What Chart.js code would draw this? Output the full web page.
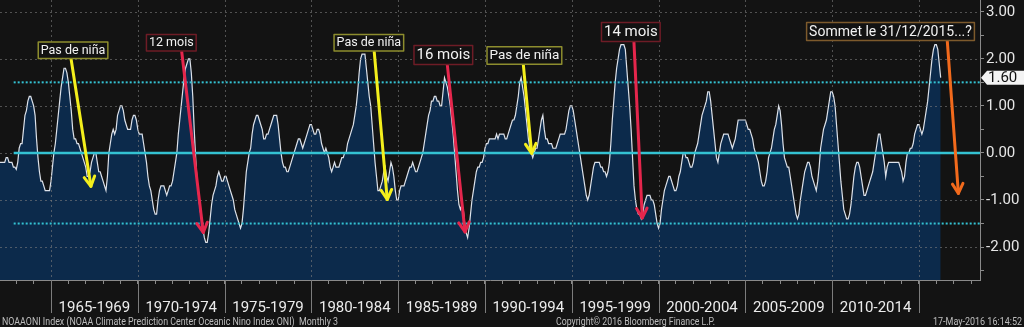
<!DOCTYPE html>
<html>
<head>
<meta charset="utf-8">
<script src="https://cdn.jsdelivr.net/npm/chart.js@4.4.1/dist/chart.umd.min.js"></script>
<style>
  html, body { margin: 0; padding: 0; background: #131313; }
  #wrap { width: 1024px; height: 327px; }
</style>
</head>
<body>
<div id="wrap"><canvas id="oniChart" width="1024" height="327"></canvas></div>
<script>
// NOAA ONI, monthly (3-month running mean, stamped on the last month of the season)
const START_YEAR = 1962;

const oni1960s = [
  -0.2,-0.2,-0.2,-0.2,-0.2,-0.1,-0.1,-0.2,-0.2,-0.2,-0.3,-0.3,   // 1962
  -0.35,-0.2,0.1,0.2,0.2,0.5,0.8,0.9,1.1,1.2,1.2,1.1,           // 1963
  1.0,0.8,0.3,-0.1,-0.4,-0.6,-0.6,-0.7,-0.8,-0.8,-0.8,-0.8,      // 1964
  -0.6,-0.3,0.0,0.2,0.5,0.8,1.1,1.4,1.6,1.8,1.8,1.7,             // 1965
  1.5,1.2,0.9,0.5,0.3,0.3,0.2,0.2,0.1,0.0,-0.1,-0.2,             // 1966
  -0.3,-0.5,-0.5,-0.4,-0.2,-0.1,0.0,0.0,-0.2,-0.4,-0.4,-0.5,     // 1967
  -0.6,-0.7,-0.8,-0.5,0.0,0.2,0.4,0.5,0.4,0.5,0.8,0.9,           // 1968
  1.0,1.0,0.9,0.7,0.6,0.5,0.5,0.5,0.7,0.8,0.8,0.7                // 1969
];
const oni1970s = [
  0.5,0.4,0.4,0.4,0.2,0.0,-0.2,-0.5,-0.7,-0.8,-1.0,-1.2,         // 1970
  -1.3,-1.3,-1.0,-0.8,-0.7,-0.7,-0.7,-0.8,-0.9,-0.8,-0.7,-0.7,   // 1971
  -0.6,-0.4,-0.2,0.0,0.4,0.7,1.0,1.3,1.6,1.8,1.9,2.0,            // 1972
  2.0,1.7,1.2,0.5,-0.1,-0.6,-0.9,-1.2,-1.4,-1.6,-1.8,-1.9,       // 1973
  -1.9,-1.7,-1.4,-1.1,-0.9,-0.8,-0.7,-0.5,-0.4,-0.5,-0.6,-0.6,   // 1974
  -0.5,-0.5,-0.6,-0.7,-0.8,-0.9,-1.0,-1.2,-1.3,-1.4,-1.5,-1.6,   // 1975
  -1.5,-1.2,-0.8,-0.4,-0.2,0.0,0.1,0.4,0.6,0.7,0.8,0.8,          // 1976
  0.7,0.6,0.5,0.3,0.3,0.4,0.4,0.5,0.6,0.7,0.8,0.8,               // 1977
  0.8,0.6,0.3,0.0,-0.2,-0.3,-0.3,-0.4,-0.4,-0.3,-0.2,-0.1,       // 1978
  0.0,0.1,0.2,0.3,0.3,0.2,0.1,0.2,0.3,0.4,0.5,0.6                // 1979
];
const oni1980s = [
  0.6,0.5,0.4,0.4,0.5,0.5,0.4,0.2,0.1,0.0,0.1,0.0,               // 1980
  -0.1,-0.3,-0.4,-0.3,-0.2,-0.3,-0.3,-0.3,-0.2,-0.1,-0.1,0.0,    // 1981
  0.0,0.2,0.3,0.4,0.5,0.6,0.8,1.0,1.3,1.7,2.0,2.1,               // 1982
  2.1,2.1,1.8,1.5,1.2,1.0,0.6,0.2,-0.2,-0.5,-0.8,-0.8,           // 1983
  -0.7,-0.6,-0.4,-0.3,-0.5,-0.6,-0.4,-0.2,-0.3,-0.5,-0.8,-1.0,   // 1984
  -1.0,-0.8,-0.7,-0.7,-0.7,-0.6,-0.5,-0.4,-0.3,-0.3,-0.2,-0.3,   // 1985
  -0.4,-0.4,-0.3,-0.2,-0.1,0.0,0.2,0.4,0.6,0.8,0.9,1.1,          // 1986
  1.1,1.2,1.2,1.1,1.1,1.0,1.0,1.3,1.6,1.5,1.4,1.2,               // 1987
  1.0,0.7,0.4,0.0,-0.4,-0.8,-1.1,-1.2,-1.1,-1.2,-1.5,-1.7,       // 1988
  -1.8,-1.6,-1.3,-1.0,-0.8,-0.6,-0.4,-0.3,-0.3,-0.2,-0.2,-0.1    // 1989
];
const oni1990s = [
  0.1,0.2,0.2,0.3,0.3,0.3,0.3,0.3,0.4,0.3,0.4,0.4,               // 1990
  0.4,0.4,0.3,0.3,0.4,0.5,0.6,0.7,0.7,0.8,1.0,1.2,               // 1991
  1.5,1.6,1.4,1.2,0.9,0.6,0.3,0.1,0.0,-0.1,0.0,0.1,              // 1992
  0.1,0.3,0.5,0.7,0.8,0.5,0.3,0.3,0.2,0.2,0.2,0.1,               // 1993
  0.1,0.1,0.2,0.3,0.4,0.4,0.4,0.4,0.5,0.7,0.9,1.0,               // 1994
  1.0,0.9,0.7,0.5,0.3,0.1,-0.1,-0.3,-0.5,-0.7,-0.9,-1.0,         // 1995
  -0.9,-0.7,-0.5,-0.3,-0.2,-0.2,-0.2,-0.2,-0.3,-0.3,-0.4,-0.4,   // 1996
  -0.5,-0.4,-0.2,0.2,0.7,1.1,1.5,1.8,2.0,2.2,2.3,2.3,            // 1997
  2.3,2.2,1.8,1.4,1.0,0.5,-0.1,-0.7,-1.0,-1.2,-1.3,-1.3,         // 1998
  -1.4,-1.3,-1.1,-1.0,-0.9,-0.9,-0.9,-1.0,-1.0,-1.1,-1.3,-1.5    // 1999
];
const oni2000s = [
  -1.6,-1.5,-1.2,-1.0,-0.8,-0.7,-0.6,-0.5,-0.5,-0.6,-0.7,-0.8,   // 2000
  -0.8,-0.7,-0.5,-0.4,-0.2,0.0,0.0,-0.1,-0.1,-0.2,-0.3,-0.3,     // 2001
  -0.2,0.0,0.1,0.2,0.4,0.6,0.8,0.9,1.0,1.1,1.3,1.3,              // 2002
  1.1,0.8,0.5,0.2,-0.1,-0.2,0.0,0.2,0.3,0.4,0.4,0.4,             // 2003
  0.4,0.3,0.2,0.1,0.2,0.3,0.5,0.7,0.7,0.7,0.7,0.7,               // 2004
  0.7,0.6,0.5,0.5,0.4,0.3,0.1,0.0,-0.1,-0.2,-0.4,-0.6,           // 2005
  -0.7,-0.7,-0.6,-0.4,-0.1,0.0,0.1,0.3,0.5,0.6,0.8,1.0,          // 2006
  0.9,0.6,0.2,-0.1,-0.2,-0.3,-0.3,-0.5,-0.7,-0.9,-1.1,-1.3,      // 2007
  -1.4,-1.3,-1.0,-0.8,-0.6,-0.4,-0.3,-0.2,-0.2,-0.3,-0.5,-0.6,   // 2008
  -0.7,-0.8,-0.6,-0.3,0.1,0.3,0.5,0.6,0.7,0.9,1.1,1.3            // 2009
];
const oni2010s = [
  1.3,1.2,1.0,0.6,0.2,-0.2,-0.6,-0.9,-1.2,-1.3,-1.4,-1.4,        // 2010
  -1.3,-1.1,-0.8,-0.5,-0.3,-0.2,-0.2,-0.3,-0.5,-0.7,-0.9,-0.9,   // 2011
  -0.8,-0.7,-0.6,-0.5,-0.4,-0.2,0.0,0.2,0.4,0.4,0.2,0.0,         // 2012
  -0.2,-0.5,-0.3,-0.2,-0.2,-0.2,-0.2,-0.2,-0.2,-0.2,-0.2,-0.3,   // 2013
  -0.4,-0.6,-0.5,-0.2,0.0,0.0,0.1,0.1,0.2,0.4,0.5,0.6,           // 2014
  0.6,0.5,0.4,0.5,0.7,0.9,1.1,1.4,1.7,2.0,2.2,2.3,               // 2015
  2.3,2.2,1.9,1.6                                                // 2016
];
const oniMonthly = [...oni1960s, ...oni1970s, ...oni1980s, ...oni1990s, ...oni2000s, ...oni2010s];

const periodStarts = [1965, 1970, 1975, 1980, 1985, 1990, 1995, 2000, 2005, 2010];
const periodLabels = ['1965-1969', '1970-1974', '1975-1979', '1980-1984', '1985-1989',
                      '1990-1994', '1995-1999', '2000-2004', '2005-2009', '2010-2014'];
const thresholds = [1.5, 0, -1.5];

const X_MIN = 1962.062, X_MAX = 2018.515;
const Y_MIN = -2.7, Y_MAX = 3.25;
const LEVEL_FROM = 1962.85;

// callouts: box centre, arrow tail and arrow tip in (year, ONI) units
const notes = [
  { text: 'Pas de niña', size: 12.5, edge: '#8d8d2e', ink: '#f4ef1c', box: [1966.27, 2.18], tail: [1966.15, 2.01], tip: [1967.30, -0.71] },
  { text: '12 mois', size: 12.5, edge: '#6e1c26', ink: '#e5264c', box: [1971.93, 2.34], tail: [1972.53, 2.15], tip: [1973.77, -1.69] },
  { text: 'Pas de niña', size: 12.5, edge: '#8d8d2e', ink: '#f4ef1c', box: [1983.31, 2.34], tail: [1983.62, 2.15], tip: [1984.37, -0.99] },
  { text: '16 mois', size: 15, edge: '#6e1c26', ink: '#e5264c', box: [1987.60, 2.08], tail: [1987.83, 1.87], tip: [1988.85, -1.68] },
  { text: 'Pas de niña', size: 13.5, edge: '#8d8d2e', ink: '#f4ef1c', box: [1992.27, 2.07], tail: [1992.21, 1.87], tip: [1992.69, -0.01] },
  { text: '14 mois', size: 15, edge: '#6e1c26', ink: '#e5264c', box: [1998.40, 2.57], tail: [1998.58, 2.36], tip: [1999.06, -1.38] },
  { text: 'Sommet le 31/12/2015...?', size: 14, edge: '#7d5a2c', ink: '#f26a1c', box: [2013.36, 2.58], tail: [2016.63, 2.38], tip: [2017.27, -0.86] }
];

const points = oniMonthly.map((v, i) => ({ x: START_YEAR + i / 12, y: v }));
const isWhole = v => Math.abs(v - Math.round(v)) < 1e-6;
const FONT = 'Roboto, "Open Sans", sans-serif';

// dotted grid on top of the area fill, plus the cyan threshold lines
const overlayGrid = {
  id: 'overlayGrid',
  afterDatasetsDraw(chart) {
    const { ctx, chartArea: a, scales: { x, y } } = chart;
    ctx.save();
    ctx.lineWidth = 1;
    ctx.strokeStyle = 'rgba(125,125,125,0.6)';
    ctx.setLineDash([2, 3]);
    for (const t of y.ticks) {
      if (!isWhole(t.value)) continue;
      const py = Math.round(y.getPixelForValue(t.value)) + 0.5;
      ctx.beginPath(); ctx.moveTo(a.left, py); ctx.lineTo(a.right, py); ctx.stroke();
    }
    const bounds = [...periodStarts, periodStarts[periodStarts.length - 1] + 5];
    for (const yr of bounds) {
      const px = Math.round(x.getPixelForValue(yr)) + 0.5;
      ctx.beginPath(); ctx.moveTo(px, a.top); ctx.lineTo(px, a.bottom); ctx.stroke();
    }
    ctx.strokeStyle = '#34c2d2';
    const x0 = x.getPixelForValue(LEVEL_FROM);
    for (const lv of thresholds) {
      const py = y.getPixelForValue(lv);
      if (lv === 0) { ctx.setLineDash([]); ctx.lineWidth = 2.5; }
      else { ctx.setLineDash([2, 2]); ctx.lineWidth = 2; }
      ctx.beginPath(); ctx.moveTo(x0, py); ctx.lineTo(a.right, py); ctx.stroke();
    }
    ctx.restore();
  }
};

function drawArrow(ctx, x1, y1, x2, y2, color) {
  const ang = Math.atan2(y2 - y1, x2 - x1);
  const len = 11, spread = 0.5;
  ctx.strokeStyle = color;
  ctx.lineWidth = 3;
  ctx.lineCap = 'round';
  ctx.lineJoin = 'round';
  ctx.beginPath(); ctx.moveTo(x1, y1); ctx.lineTo(x2, y2); ctx.stroke();
  ctx.beginPath();
  ctx.moveTo(x2 - len * Math.cos(ang - spread), y2 - len * Math.sin(ang - spread));
  ctx.lineTo(x2, y2);
  ctx.lineTo(x2 - len * Math.cos(ang + spread), y2 - len * Math.sin(ang + spread));
  ctx.stroke();
}

// period labels under the axis, footer, last value tag and the callouts
const decorations = {
  id: 'decorations',
  afterDraw(chart) {
    const { ctx, chartArea: a, scales: { x, y } } = chart;
    ctx.save();

    // period separators and labels
    ctx.strokeStyle = '#7c7c7c';
    ctx.lineWidth = 1;
    const bounds = [...periodStarts, periodStarts[periodStarts.length - 1] + 5];
    for (const yr of bounds) {
      const px = Math.round(x.getPixelForValue(yr)) + 0.5;
      ctx.beginPath(); ctx.moveTo(px, a.bottom); ctx.lineTo(px, a.bottom + 33); ctx.stroke();
    }
    ctx.fillStyle = '#ececec';
    ctx.font = '15px ' + FONT;
    ctx.textAlign = 'center';
    ctx.textBaseline = 'alphabetic';
    periodStarts.forEach((yr, i) => {
      const cx = (x.getPixelForValue(yr) + x.getPixelForValue(yr + 5)) / 2;
      ctx.fillText(periodLabels[i], cx, a.bottom + 31.5);
    });

    // footer
    ctx.fillStyle = '#bdbdbd';
    ctx.font = '10px ' + FONT;
    ctx.textAlign = 'left';
    ctx.fillText('NOAAONI Index (NOAA Climate Prediction Center Oceanic Nino Index ONI)  Monthly 3', 2, 325, 336);
    ctx.fillText('Copyright\u00a9 2016 Bloomberg Finance L.P.', 556, 325, 159);
    ctx.textAlign = 'right';
    ctx.fillText('17-May-2016 16:14:52', 1022, 325, 89);

    // last value tag on the right axis
    const last = oniMonthly[oniMonthly.length - 1];
    const ty = y.getPixelForValue(last);
    ctx.fillStyle = '#f3f3f3';
    ctx.beginPath();
    ctx.moveTo(a.right + 1, ty);
    ctx.lineTo(a.right + 7, ty - 7);
    ctx.lineTo(chart.width, ty - 7);
    ctx.lineTo(chart.width, ty + 7);
    ctx.lineTo(a.right + 7, ty + 7);
    ctx.closePath();
    ctx.fill();
    ctx.fillStyle = '#111';
    ctx.font = '15px ' + FONT;
    ctx.textAlign = 'left';
    ctx.textBaseline = 'middle';
    ctx.fillText(last.toFixed(2), a.right + 8, ty + 0.5);

    // callouts
    for (const n of notes) {
      drawArrow(ctx, x.getPixelForValue(n.tail[0]), y.getPixelForValue(n.tail[1]),
                x.getPixelForValue(n.tip[0]), y.getPixelForValue(n.tip[1]), n.ink);
    }
    for (const n of notes) {
      ctx.font = n.size + 'px ' + FONT;
      const w = ctx.measureText(n.text).width + 5;
      const h = n.size + 4;
      const cx = x.getPixelForValue(n.box[0]);
      const cy = y.getPixelForValue(n.box[1]);
      ctx.fillStyle = '#121212';
      ctx.fillRect(cx - w / 2, cy - h / 2, w, h);
      ctx.strokeStyle = n.edge;
      ctx.lineWidth = 1.5;
      ctx.strokeRect(cx - w / 2, cy - h / 2, w, h);
      ctx.fillStyle = '#f2f2f2';
      ctx.textAlign = 'center';
      ctx.textBaseline = 'middle';
      ctx.fillText(n.text, cx, cy + 0.5);
    }
    ctx.restore();
  }
};

new Chart(document.getElementById('oniChart'), {
  type: 'line',
  data: {
    datasets: [{
      data: points,
      borderColor: '#dde2ea',
      borderWidth: 1.2,
      backgroundColor: '#0c2a4b',
      fill: 'start',
      pointRadius: 0,
      tension: 0
    }]
  },
  options: {
    responsive: false,
    animation: false,
    devicePixelRatio: 1,
    layout: { padding: 0 },
    plugins: { legend: { display: false }, tooltip: { enabled: false } },
    scales: {
      x: {
        type: 'linear',
        min: X_MIN,
        max: X_MAX,
        afterFit(s) { s.height = 47; s.paddingLeft = 0; s.paddingRight = 0; },
        ticks: { display: false, stepSize: 1, includeBounds: false },
        grid: { drawOnChartArea: false, drawTicks: true, tickLength: 4, tickColor: '#8a8a8a' },
        border: { display: true, color: '#8a8a8a', width: 1 }
      },
      y: {
        position: 'right',
        min: Y_MIN,
        max: Y_MAX,
        afterFit(s) { s.width = 44; s.paddingTop = 0; s.paddingBottom = 0; },
        ticks: {
          stepSize: 0.5,
          includeBounds: false,
          autoSkip: false,
          padding: 2,
          color: '#e6e6e6',
          font: { family: FONT, size: 15 },
          callback: v => isWhole(v) ? v.toFixed(2) : ''
        },
        grid: { drawOnChartArea: false, drawTicks: true, tickLength: 4, tickColor: '#8a8a8a' },
        border: { display: true, color: '#8a8a8a', width: 1 }
      }
    }
  },
  plugins: [overlayGrid, decorations]
});
</script>
</body>
</html>
